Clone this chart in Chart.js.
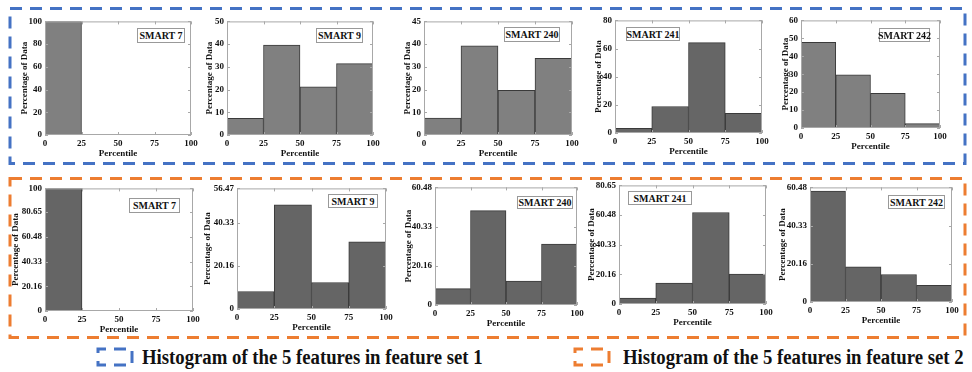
<!DOCTYPE html>
<html>
<head>
<meta charset="utf-8">
<script src="https://cdn.jsdelivr.net/npm/chart.js@4.4.0/dist/chart.umd.min.js"></script>
<style>
body { margin: 0; background: #fff; width: 972px; height: 372px; overflow: hidden; position: relative; font-family: "Liberation Serif", "Times New Roman", serif; }
canvas { position: absolute; }
svg { position: absolute; left: 0; top: 0; }
.tag { position: absolute; box-sizing: border-box; border: 1px solid #999; background: #fff; font-weight: bold; font-size: 10px; display: flex; align-items: center; justify-content: center; white-space: nowrap; color: #111; }
.legend { position: absolute; font-weight: bold; font-size: 20px; line-height: 20px; white-space: nowrap; transform-origin: left center; color: #111; }
.warm { position: absolute; left: -100px; top: -100px; font-weight: bold; font-size: 9px; }
</style>
</head>
<body>
<svg width="972" height="372">
  <rect x="10" y="8.5" width="955" height="155" fill="none" stroke="#4472C4" stroke-width="3" stroke-dasharray="12 8"/>
  <rect x="10" y="178.5" width="955" height="159" fill="none" stroke="#ED7D31" stroke-width="3" stroke-dasharray="12 8"/>
  <rect x="98" y="349" width="34" height="16" fill="none" stroke="#4472C4" stroke-width="3" stroke-dasharray="12 8" stroke-dashoffset="4"/>
  <rect x="575" y="349" width="34" height="16" fill="none" stroke="#ED7D31" stroke-width="3" stroke-dasharray="12 8" stroke-dashoffset="4"/>
</svg>
<div class="warm">Percentile 0123456789.</div>
<div class="legend" id="leg1" style="left:142px; top:347px;">Histogram of the 5 features in feature set 1</div>
<div class="legend" id="leg2" style="left:623px; top:347px;">Histogram of the 5 features in feature set 2</div>

<script>
// percentile bins of the histograms
let binEdges = [0, 25, 50, 75, 100];
let features = ["SMART 7", "SMART 9", "SMART 240", "SMART 241", "SMART 242"];

// feature set 1 : percentage of data per bin
let set1Smart7 = [100, 0, 0, 0];
let set1Smart9 = [7.3, 39.6, 21.2, 31.4];
let set1Smart240 = [7.4, 39.3, 19.7, 33.7];
let set1Smart241 = [3.3, 18.8, 64.2, 13.9];
let set1Smart242 = [47.8, 29.6, 19.4, 2.4];

// feature set 2 : percentage of data per bin
let set2Smart7 = [100, 0, 0, 0.3];
let set2Smart9 = [8.2, 48.8, 12.4, 31.4];
let set2Smart240 = [8.4, 48.5, 12.3, 31.3];
let set2Smart241 = [4.1, 14.2, 62.2, 20.3];
let set2Smart242 = [58.5, 18.5, 14.5, 8.8];

// y ticks (values and printed labels)
let set1YTicks = [[0, 20, 40, 60, 80, 100], [0, 10, 20, 30, 40, 50], [0, 10, 20, 30, 40, 50], [0, 20, 40, 60, 80], [0, 10, 20, 30, 40, 50, 60]];
let set1YLabels = [["0", "20", "40", "60", "80", "100"], ["0", "10", "20", "30", "40", "50"], ["0", "10", "20", "30", "40", "45"], ["0", "20", "40", "60", "80"], ["0", "10", "20", "30", "40", "50", "60"]];
let set2YTicks = [[0, 20.16, 40.33, 60.48, 80.65, 100], [0, 20.16, 40.33, 56.47], [0, 20.16, 40.33, 60.48], [0, 20.16, 40.33, 60.48, 80.65], [0, 20.16, 40.33, 60.48]];
let set2YLabels = [["0", "20.16", "40.33", "60.48", "80.65", "100"], ["0", "20.16", "40.33", "56.47"], ["0", "20.16", "40.33", "60.48"], ["0", "20.16", "40.33", "60.48", "80.65"], ["0", "20.16", "40.33", "60.48"]];

let xTitle = "Percentile";
let yTitle = "Percentage of Data";

// layout: plot area (l,t,r,b), y title distance, tag box
let layout1 = [
    {l: 45, t: 21, r: 191, b: 135, ty: 21, tag: [137, 28, 185, 43]},
    {l: 227, t: 21, r: 373, b: 135, ty: 18, tag: [316, 28, 363, 43]},
    {l: 424, t: 21, r: 572, b: 135, ty: 17, tag: [504, 27, 560, 42]},
    {l: 615, t: 20, r: 762, b: 133, ty: 17, tag: [626, 27, 680, 41]},
    {l: 801, t: 20, r: 940, b: 128, ty: 16, tag: [879, 28, 930, 42]}
];
let layout2 = [
    {l: 45, t: 188, r: 193, b: 311, ty: 30, tag: [129, 198, 180, 213]},
    {l: 237, t: 188, r: 386, b: 309, ty: 30, tag: [328, 194, 378, 208]},
    {l: 435, t: 187, r: 577, b: 305, ty: 27, tag: [517, 196, 573, 209]},
    {l: 619, t: 185, r: 766, b: 304, ty: 28, tag: [628, 191, 692, 205]},
    {l: 810, t: 187, r: 952, b: 302, ty: 28, tag: [888, 195, 945, 209]}
];

Chart.defaults.font.family = "'Liberation Serif', serif";
Chart.defaults.font.weight = "bold";
Chart.defaults.font.size = 9;
Chart.defaults.color = "#111";

// matlab style box + inward ticks around the plot
let boxPlugin = {
    id: "matlabBox",
    afterDraw(chart) {
        let ctx = chart.ctx, a = chart.chartArea;
        let sx = chart.scales.x, sy = chart.scales.y;
        ctx.save();
        ctx.strokeStyle = "#a8a8a8";
        ctx.lineWidth = 1;
        ctx.strokeRect(a.left + 0.5, a.top + 0.5, a.right - a.left - 1, a.bottom - a.top - 1);
        ctx.beginPath();
        sy.ticks.forEach(t => {
            let y = Math.round(sy.getPixelForValue(t.value)) + 0.5;
            ctx.moveTo(a.left, y); ctx.lineTo(a.left + 3, y);
            ctx.moveTo(a.right - 3, y); ctx.lineTo(a.right, y);
        });
        sx.ticks.forEach(t => {
            let x = Math.round(sx.getPixelForValue(t.value)) + 0.5;
            ctx.moveTo(x, a.bottom); ctx.lineTo(x, a.bottom - 3);
            ctx.moveTo(x, a.top); ctx.lineTo(x, a.top + 3);
        });
        ctx.stroke();
        ctx.restore();
    }
};

let makePanel = (values, yTicks, yLabels, name, color, box) => {
    let yW = Math.round(box.ty + 5);
    let padTop = 8, padRight = 10, xH = 24;
    let canvas = document.createElement("canvas");
    canvas.width = box.r - box.l + yW + padRight;
    canvas.height = box.b - box.t + padTop + xH;
    canvas.style.left = (box.l - yW) + "px";
    canvas.style.top = (box.t - padTop) + "px";
    document.body.appendChild(canvas);

    let points = values.map((v, i) => ({x: (binEdges[i] + binEdges[i + 1]) / 2, y: v}));

    new Chart(canvas, {
        type: "bar",
        data: {
            datasets: [{
                data: points,
                backgroundColor: color,
                borderColor: "#3a3a3a",
                borderWidth: 1,
                borderSkipped: "start",
                barPercentage: 1,
                categoryPercentage: 1
            }]
        },
        options: {
            responsive: false,
            animation: false,
            layout: {padding: {top: padTop, right: padRight, left: 0, bottom: 0}},
            plugins: {legend: {display: false}, tooltip: {enabled: false}},
            scales: {
                x: {
                    type: "linear",
                    min: binEdges[0],
                    max: binEdges[binEdges.length - 1],
                    offset: false,
                    grid: {display: false, offset: false, drawTicks: false},
                    border: {display: false},
                    afterBuildTicks: s => { s.ticks = binEdges.map(v => ({value: v})); },
                    afterFit: s => { s.height = xH; },
                    ticks: {padding: 3, autoSkip: false, maxRotation: 0, callback: v => String(v)},
                    title: {display: true, text: xTitle, padding: 0}
                },
                y: {
                    type: "linear",
                    min: 0,
                    max: yTicks[yTicks.length - 1],
                    grid: {display: false, drawTicks: false},
                    border: {display: false},
                    afterBuildTicks: s => { s.ticks = yTicks.map(v => ({value: v})); },
                    afterFit: s => { s.width = yW; },
                    ticks: {padding: 3, autoSkip: false, callback: (v, i) => yLabels[i]},
                    title: {display: true, text: yTitle, padding: 0}
                }
            }
        },
        plugins: [boxPlugin]
    });

    let tag = document.createElement("div");
    tag.className = "tag";
    tag.textContent = name;
    tag.style.left = box.tag[0] + "px";
    tag.style.top = box.tag[1] + "px";
    tag.style.width = (box.tag[2] - box.tag[0]) + "px";
    tag.style.height = (box.tag[3] - box.tag[1]) + "px";
    document.body.appendChild(tag);
}

let set1 = [set1Smart7, set1Smart9, set1Smart240, set1Smart241, set1Smart242];
let set2 = [set2Smart7, set2Smart9, set2Smart240, set2Smart241, set2Smart242];

let drawAll = () => {
    set1.forEach((vals, i) => {
        let color = (i == 3) ? "#666666" : "#808080";
        makePanel(vals, set1YTicks[i], set1YLabels[i], features[i], color, layout1[i]);
    });
    set2.forEach((vals, i) => {
        makePanel(vals, set2YTicks[i], set2YLabels[i], features[i], "#656565", layout2[i]);
    });

    // squeeze legend text to the width it has in the figure
    ["leg1", "leg2"].forEach(id => {
        let el = document.querySelector("#" + id);
        let w = el.offsetWidth;
        el.style.transform = "scaleX(" + (341 / w) + ")";
    });
};

document.fonts.load("bold 9px 'Liberation Serif'").then(drawAll, drawAll);
</script>
</body>
</html>
